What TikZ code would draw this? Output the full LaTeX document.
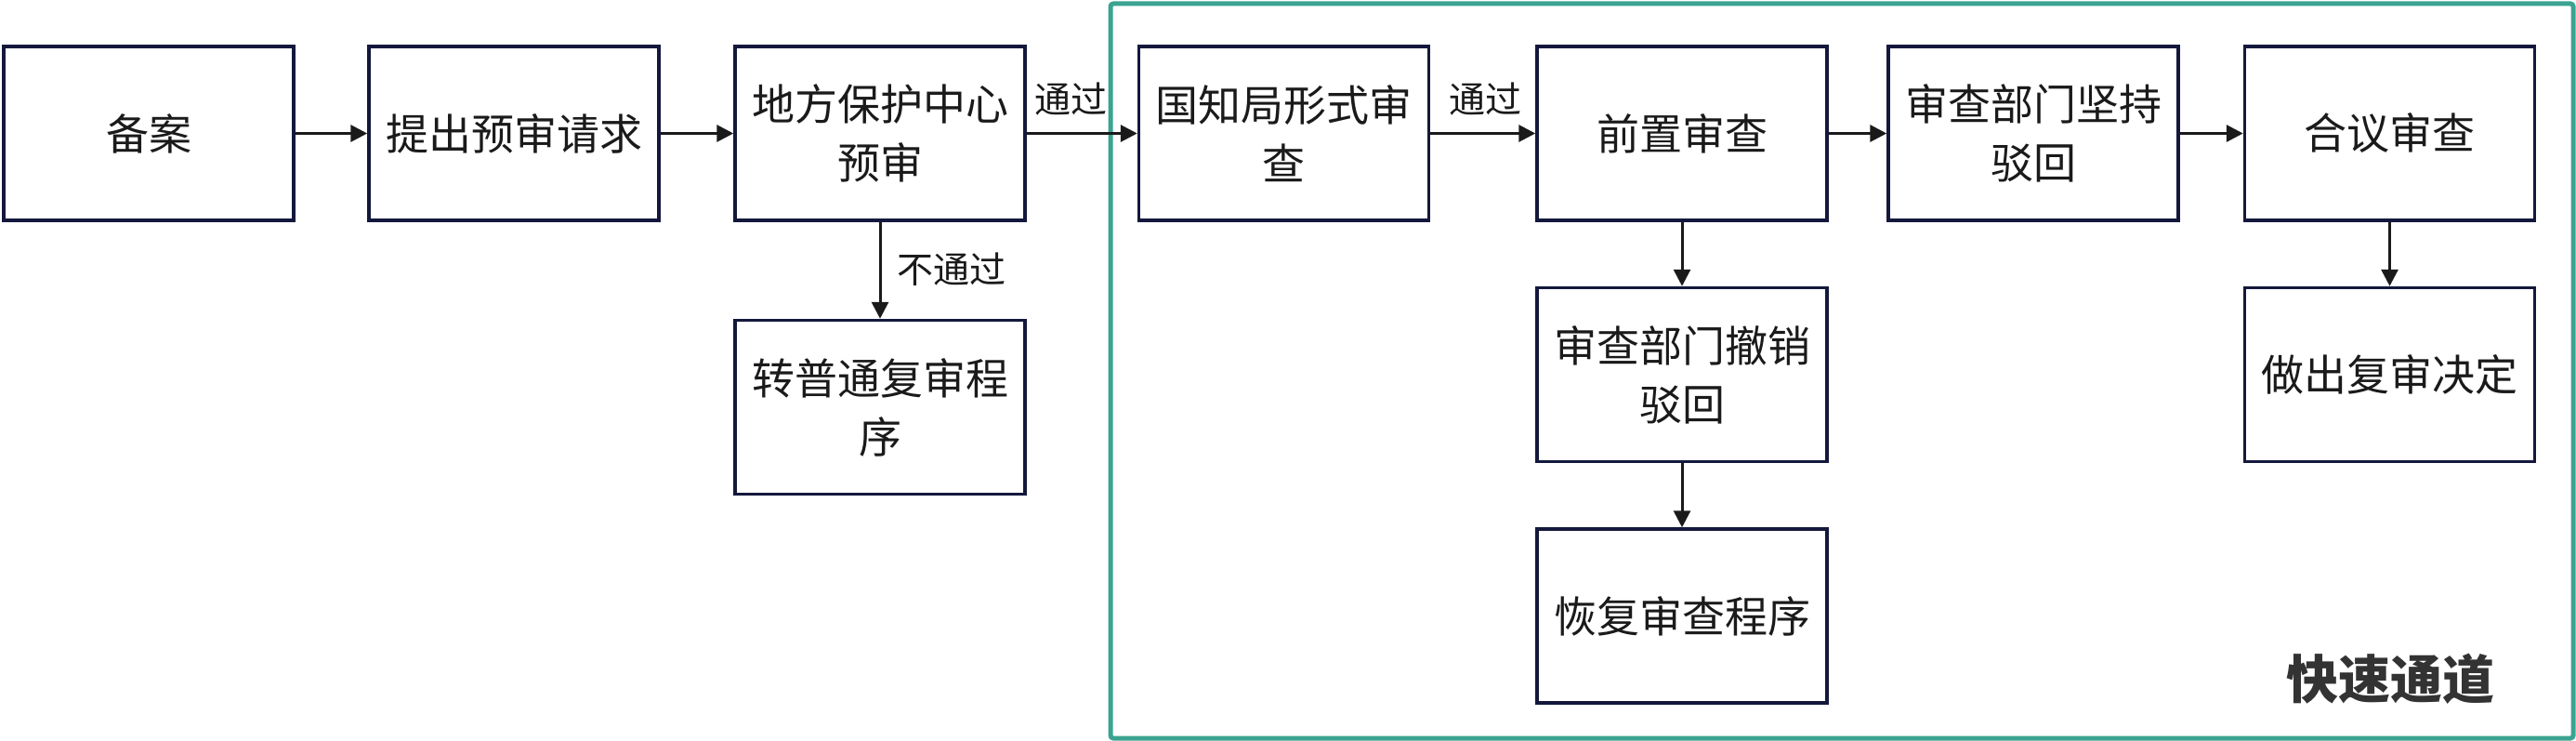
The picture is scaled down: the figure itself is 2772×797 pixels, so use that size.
\documentclass[tikz,border=0pt]{standalone}
\usepackage{fontspec}
\newfontfamily\cjk{Noto Sans CJK SC}
\usetikzlibrary{arrows.meta}
\definecolor{boxline}{RGB}{20,24,60}
\definecolor{frame}{RGB}{59,163,145}
\definecolor{txt}{RGB}{26,26,26}
\definecolor{ttl}{RGB}{51,51,51}
\tikzset{
  proc/.style={draw=boxline, line width=3.5pt, minimum width=312pt, minimum height=187pt,
    align=center, text=txt, inner sep=0pt, font=\cjk\fontsize{46}{63}\selectfont},
  conn/.style={draw=txt, line width=3pt, -{Triangle[length=18pt,width=18pt]}},
  lbl/.style={text=txt, inner sep=0pt, font=\cjk\fontsize{39}{45}\selectfont}
}
\begin{document}
\begin{tikzpicture}[x=1pt,y=-1pt]
\useasboundingbox (0,0) rectangle (2772,797);
\draw[frame, line width=5pt, rounded corners=3pt] (1195,4) rectangle (2769,794);
\node[proc] (a) at (160,143.5) {备案};
\node[proc] (b) at (553,143.5) {提出预审请求};
\node[proc] (c) at (947,143.5) {地方保护中心\\预审};
\node[proc] (d) at (947,438) {转普通复审程\\序};
\node[proc] (e) at (1381.5,143.5) {国知局形式审\\查};
\node[proc] (f) at (1810,143.5) {前置审查};
\node[proc] (g) at (2188,143.5) {审查部门坚持\\驳回};
\node[proc] (h) at (2571.5,143.5) {合议审查};
\node[proc] (i) at (1810,403) {审查部门撤销\\驳回};
\node[proc] (j) at (1810,662.5) {恢复审查程序};
\node[proc] (k) at (2571.5,403) {做出复审决定};
\draw[conn] (a) -- (b);
\draw[conn] (b) -- (c);
\draw[conn] (c) -- (e);
\draw[conn] (c) -- (d);
\draw[conn] (e) -- (f);
\draw[conn] (f) -- (g);
\draw[conn] (g) -- (h);
\draw[conn] (f) -- (i);
\draw[conn] (i) -- (j);
\draw[conn] (h) -- (k);
\node[lbl] (l1) at (1152,107) {通过};
\node[lbl] (l2) at (1598,107) {通过};
\node[lbl] (l3) at (1024,290) {不通过};
\node[text=ttl, inner sep=0pt, font=\cjk\bfseries\fontsize{56}{60}\selectfont] (t) at (2572,730) {快速通道};
\end{tikzpicture}
\end{document}
